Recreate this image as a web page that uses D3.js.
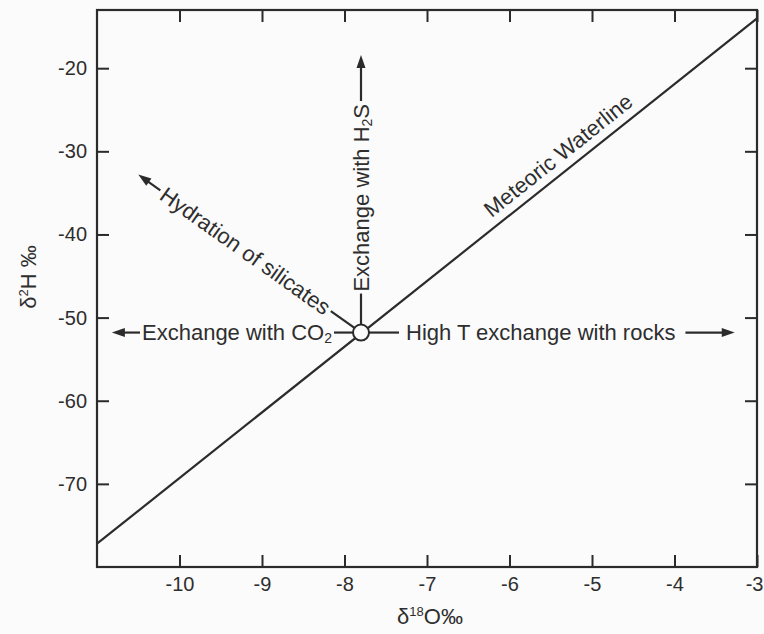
<!DOCTYPE html>
<html lang="en">
<head>
  <meta charset="UTF-8">
  <title>Isotope shifts from the meteoric waterline</title>
  <style>
    body {
      margin: 0;
      background-color: #fbfbfb;
    }
    svg {
      display: block;
      font-family: "Liberation Sans", Arial, Helvetica, sans-serif;
    }
    .axis text {
      font-size: 20px;
      fill: #2e2e2e;
    }
    .axis line {
      stroke: #2b2b2b;
      stroke-width: 2;
    }
    .label {
      font-size: 22px;
      fill: #2e2e2e;
    }
  </style>
</head>
<body>
  <svg id="chart"></svg>

  <script src="https://d3js.org/d3.v7.min.js"></script>
  <script>
    // axis values
    const xDomain = [-11, -3];
    const yDomain = [-80, -13];
    const xTicks = [-10, -9, -8, -7, -6, -5, -4, -3];
    const yTicks = [-70, -60, -50, -40, -30, -20];

    // meteoric waterline end points (d18O, d2H)
    const mwlX = [-11, -3];
    const mwlY = [-77.2, -14];

    // starting water composition
    const originX = -7.8;
    const originY = -51.8;

    // process arrows: tips in data units
    const arrowNames = ["co2", "h2s", "hydration", "rocks"];
    const arrowTipX = [-10.82, -7.8, -10.5, -3.27];
    const arrowTipY = [-51.8, -18.4, -32.8, -51.8];

    const width = 764;
    const height = 634;
    const margin = { top: 10, right: 7, bottom: 67, left: 97 };
    const ink = "#2b2b2b";

    const svg = d3.select("#chart")
      .attr("width", width)
      .attr("height", height);

    const x = d3.scaleLinear().domain(xDomain).range([margin.left, width - margin.right]);
    const y = d3.scaleLinear().domain(yDomain).range([height - margin.bottom, margin.top]);

    // axes, ticks point inwards on all four sides
    svg.append("g")
      .attr("class", "axis")
      .attr("transform", `translate(0,${height - margin.bottom})`)
      .call(d3.axisBottom(x).tickValues(xTicks).tickSize(-12).tickPadding(10).tickFormat(d => String(d)))
      .call(g => g.select(".domain").remove())
      // last label sits against the frame edge
      .call(g => g.selectAll(".tick text").filter(d => d === xTicks[xTicks.length - 1])
        .attr("text-anchor", "end").attr("x", 6));

    svg.append("g")
      .attr("class", "axis")
      .attr("transform", `translate(0,${margin.top})`)
      .call(d3.axisTop(x).tickValues(xTicks).tickSize(-12).tickFormat(""))
      .call(g => g.select(".domain").remove());

    svg.append("g")
      .attr("class", "axis")
      .attr("transform", `translate(${margin.left},0)`)
      .call(d3.axisLeft(y).tickValues(yTicks).tickSize(-12).tickPadding(10).tickFormat(d => String(d)))
      .call(g => g.select(".domain").remove());

    svg.append("g")
      .attr("class", "axis")
      .attr("transform", `translate(${width - margin.right},0)`)
      .call(d3.axisRight(y).tickValues(yTicks).tickSize(-12).tickFormat(""))
      .call(g => g.select(".domain").remove());

    svg.append("rect")
      .attr("x", margin.left)
      .attr("y", margin.top)
      .attr("width", width - margin.left - margin.right)
      .attr("height", height - margin.top - margin.bottom)
      .attr("fill", "none")
      .attr("stroke", ink)
      .attr("stroke-width", 2.2);

    // axis titles
    const xTitle = svg.append("text")
      .attr("class", "label")
      .attr("x", (margin.left + width - margin.right) / 2 + 3)
      .attr("y", 624)
      .attr("text-anchor", "middle");
    xTitle.append("tspan").text("δ");
    xTitle.append("tspan").attr("font-size", 13).attr("dy", -8).text("18");
    xTitle.append("tspan").attr("dy", 8).text("O‰");

    const yTitle = svg.append("text")
      .attr("class", "label")
      .attr("transform", "translate(36,277) rotate(-90)")
      .attr("text-anchor", "middle");
    yTitle.append("tspan").text("δ");
    yTitle.append("tspan").attr("font-size", 13).attr("dy", -8).text("2");
    yTitle.append("tspan").attr("dy", 8).text("H ‰");

    // meteoric waterline
    const line = d3.line().x(d => x(d[0])).y(d => y(d[1]));
    svg.append("path")
      .datum(d3.zip(mwlX, mwlY))
      .attr("d", line)
      .attr("fill", "none")
      .attr("stroke", ink)
      .attr("stroke-width", 2.2);

    const mwlAt = v => mwlY[0] + (v - mwlX[0]) * (mwlY[1] - mwlY[0]) / (mwlX[1] - mwlX[0]);
    const mwlAngle = Math.atan2(y(mwlY[1]) - y(mwlY[0]), x(mwlX[1]) - x(mwlX[0])) * 180 / Math.PI;
    const mwlLabelX = -6.15;
    svg.append("text")
      .attr("class", "label")
      .attr("font-size", 21)
      .attr("transform", `translate(${x(mwlLabelX)},${y(mwlAt(mwlLabelX))}) rotate(${mwlAngle})`)
      .attr("dy", -9)
      .text("Meteoric Waterline");

    // label builders (subscripts as tspans)
    const labelParts = {
      co2: [["Exchange with CO", 0], ["2", 1]],
      h2s: [["Exchange with H", 0], ["2", 1], ["S", 0]],
      hydration: [["Hydration of silicates", 0]],
      rocks: [["High T exchange with rocks", 0]]
    };

    // gaps along each arrow, in pixels from the circle centre
    const layout = {
      co2: { lineEnd: 27, textAt: 29, after: 2 },
      h2s: { lineEnd: 39, textAt: 41, after: 3 },
      hydration: { lineEnd: 37, textAt: 40, after: 3 },
      rocks: { lineEnd: 38, textAt: 45, after: 10 }
    };

    const ox = x(originX);
    const oy = y(originY);
    const r = 8;

    arrowNames.forEach((name, i) => {
      const tx = x(arrowTipX[i]);
      const ty = y(arrowTipY[i]);
      const len = Math.hypot(tx - ox, ty - oy);
      const ux = (tx - ox) / len;
      const uy = (ty - oy) / len;
      const L = layout[name];
      const at = d => [ox + ux * d, oy + uy * d];

      // text first so its length can be measured
      let theta = Math.atan2(uy, ux) * 180 / Math.PI;
      const reversed = ux < -0.01;
      if (reversed) theta += 180;
      const p = at(L.textAt);
      const t = svg.append("text")
        .attr("class", "label")
        .attr("transform", `translate(${p[0]},${p[1]}) rotate(${theta})`)
        .attr("text-anchor", reversed ? "end" : "start")
        .attr("dy", "0.36em");
      let shift = 0;
      labelParts[name].forEach(([s, sub]) => {
        const ts = t.append("tspan").text(s);
        if (sub && !shift) { ts.attr("font-size", 14).attr("dy", 3); shift = 3; }
        else if (!sub && shift) { ts.attr("dy", -shift); shift = 0; }
      });
      const textLen = t.node().getComputedTextLength();

      // segment from circle to label
      const a = at(r), b = at(L.lineEnd);
      svg.append("line")
        .attr("x1", a[0]).attr("y1", a[1])
        .attr("x2", b[0]).attr("y2", b[1])
        .attr("stroke", ink).attr("stroke-width", 2.2);

      // shaft and head beyond the label
      const headLen = 13, headW = 4.5;
      const c = at(L.textAt + textLen + L.after), h = at(len - headLen + 1);
      svg.append("line")
        .attr("x1", c[0]).attr("y1", c[1])
        .attr("x2", h[0]).attr("y2", h[1])
        .attr("stroke", ink).attr("stroke-width", 2.2);
      const base = at(len - headLen);
      svg.append("path")
        .attr("d", `M${tx},${ty}L${base[0] - uy * headW},${base[1] + ux * headW}L${base[0] + uy * headW},${base[1] - ux * headW}Z`)
        .attr("fill", ink);
    });

    // open circle at the starting composition
    svg.append("circle")
      .attr("cx", ox)
      .attr("cy", oy)
      .attr("r", r)
      .attr("fill", "#fbfbfb")
      .attr("stroke", ink)
      .attr("stroke-width", 2);
  </script>
</body>
</html>
